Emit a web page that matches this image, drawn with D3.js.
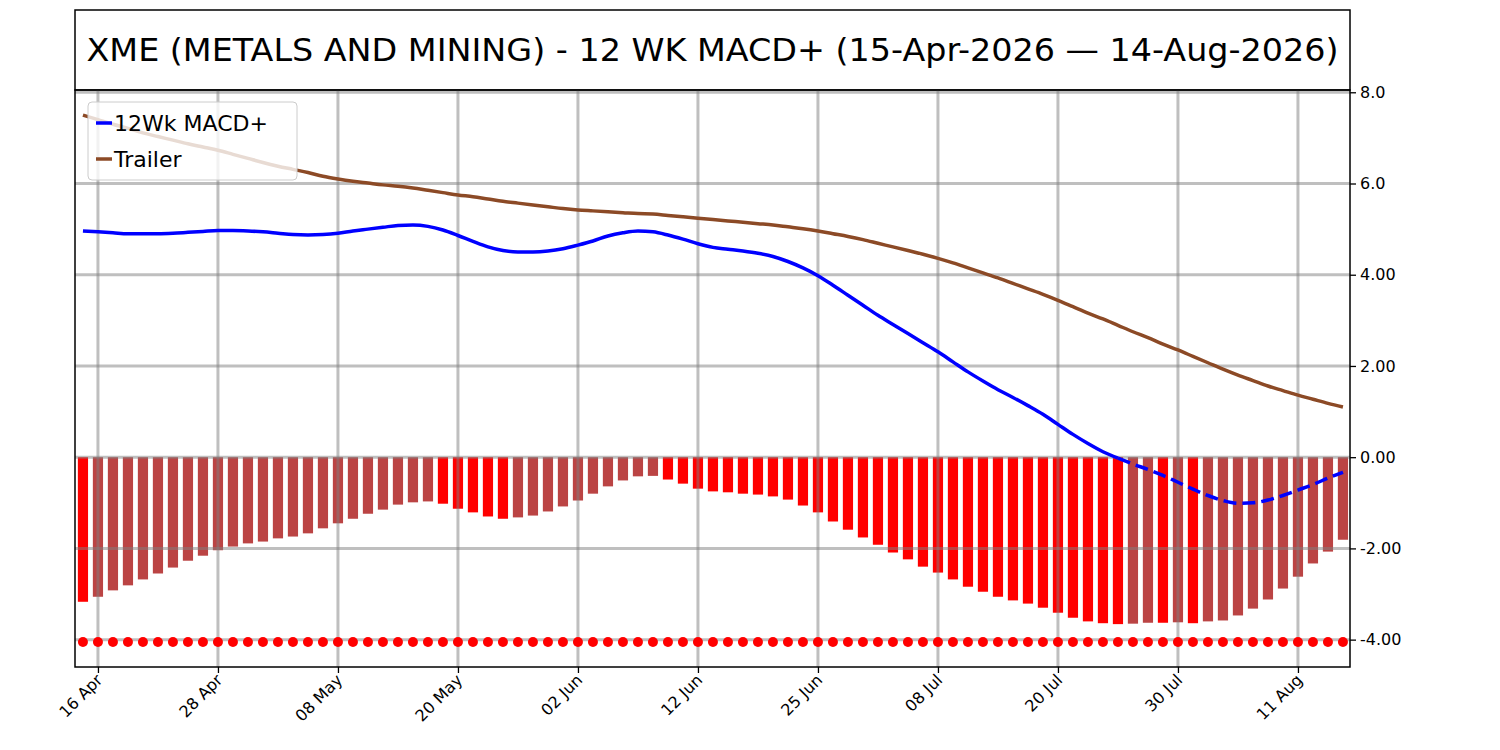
<!DOCTYPE html>
<html>
<head>
<meta charset="utf-8">
<script src="https://cdn.jsdelivr.net/npm/d3@7"></script>
<style>
  body { margin: 0; background: #fff; }
  text { font-family: "DejaVu Sans", sans-serif; }
</style>
</head>
<body>
<svg id="chart" width="1500" height="750"></svg>
<script>
// histogram values, one per trading day (15 Apr 2026 .. 14 Aug 2026)
var histValues = [-3.17, -3.06, -2.92, -2.81, -2.68, -2.55, -2.42, -2.27, -2.16, -2.04,
  -1.96, -1.89, -1.85, -1.78, -1.74, -1.67, -1.56, -1.45, -1.35, -1.24,
  -1.15, -1.04, -0.99, -0.97, -1.02, -1.13, -1.21, -1.30, -1.35, -1.32,
  -1.28, -1.19, -1.08, -0.95, -0.80, -0.64, -0.51, -0.42, -0.41, -0.49,
  -0.58, -0.69, -0.75, -0.77, -0.80, -0.82, -0.86, -0.93, -1.06, -1.21,
  -1.41, -1.59, -1.76, -1.92, -2.09, -2.24, -2.40, -2.53, -2.68, -2.84,
  -2.95, -3.06, -3.14, -3.21, -3.30, -3.41, -3.52, -3.60, -3.64, -3.66,
  -3.65, -3.63, -3.63, -3.62, -3.64, -3.60, -3.58, -3.47, -3.32, -3.12,
  -2.88, -2.62, -2.33, -2.07, -1.81];

var macdValues = [4.96, 4.94, 4.92, 4.90, 4.90, 4.90, 4.91, 4.93, 4.95, 4.97,
  4.97, 4.96, 4.94, 4.91, 4.88, 4.87, 4.88, 4.91, 4.96, 5.00,
  5.04, 5.08, 5.09, 5.06, 4.98, 4.86, 4.73, 4.61, 4.53, 4.50,
  4.50, 4.52, 4.57, 4.65, 4.74, 4.85, 4.92, 4.96, 4.94, 4.87,
  4.78, 4.68, 4.60, 4.56, 4.52, 4.47, 4.40, 4.29, 4.15, 3.98,
  3.77, 3.55, 3.33, 3.11, 2.91, 2.71, 2.51, 2.31, 2.09, 1.87,
  1.67, 1.48, 1.31, 1.13, 0.94, 0.72, 0.50, 0.30, 0.12, -0.02,
  -0.15, -0.27, -0.40, -0.55, -0.70, -0.84, -0.95, -1.01, -1.00, -0.94,
  -0.84, -0.72, -0.60, -0.46, -0.33];

var trailerValues = [7.50, 7.40, 7.30, 7.21, 7.11, 7.03, 6.95, 6.87, 6.80, 6.73,
  6.64, 6.55, 6.46, 6.38, 6.31, 6.24, 6.16, 6.10, 6.05, 6.01,
  5.97, 5.94, 5.90, 5.85, 5.80, 5.75, 5.71, 5.66, 5.61, 5.57,
  5.53, 5.49, 5.45, 5.42, 5.40, 5.38, 5.36, 5.34, 5.33, 5.30,
  5.27, 5.24, 5.21, 5.18, 5.15, 5.12, 5.09, 5.05, 5.01, 4.96,
  4.90, 4.84, 4.77, 4.69, 4.61, 4.53, 4.45, 4.36, 4.26, 4.15,
  4.04, 3.93, 3.81, 3.69, 3.57, 3.44, 3.30, 3.16, 3.03, 2.89,
  2.75, 2.62, 2.48, 2.35, 2.21, 2.07, 1.93, 1.80, 1.68, 1.56,
  1.46, 1.36, 1.27, 1.18, 1.10];

var dotLevel = -4.05;

var xTickIndex = [1, 9, 17, 25, 33, 41, 49, 57, 65, 73, 81];
var xTickLabels = ["16 Apr", "28 Apr", "08 May", "20 May", "02 Jun", "12 Jun",
  "25 Jun", "08 Jul", "20 Jul", "30 Jul", "11 Aug"];
var yTickValues = [8, 6, 4, 2, 0, -2, -4];
var yTickLabels = ["8.0", "6.0", "4.00", "2.00", "0.00", "-2.00", "-4.00"];

var title = "XME (METALS AND MINING) - 12 WK MACD+ (15-Apr-2026 \u2014 14-Aug-2026)";

var pLeft = 75, pRight = 1350, pTop = 90, pBottom = 667;
var svg = d3.select("#chart");

var x = d3.scaleLinear().domain([-0.53, 84.47]).range([pLeft, pRight]);
var y = d3.scaleLinear().domain([-4.6, 8.05]).range([pBottom, pTop]);
var idx = d3.range(histValues.length);

// title box
svg.append("rect").attr("x", pLeft).attr("y", 10).attr("width", pRight - pLeft).attr("height", pTop - 10)
  .attr("fill", "none").attr("stroke", "#000").attr("stroke-width", 1.5);
svg.append("text").attr("x", (pLeft + pRight) / 2).attr("y", 61).attr("text-anchor", "middle")
  .attr("font-size", 32).attr("textLength", 1252).attr("lengthAdjust", "spacingAndGlyphs").text(title);

// bars
var bw = (x(1) - x(0)) * 0.68;
svg.append("g").selectAll("rect").data(idx).join("rect")
  .attr("x", d => x(d) - bw / 2)
  .attr("width", bw)
  .attr("y", d => y(Math.max(0, histValues[d])))
  .attr("height", d => Math.abs(y(histValues[d]) - y(0)))
  .attr("fill", d => (d > 0 && histValues[d] > histValues[d - 1]) ? "#bb4444" : "#ff0000");

// grid
var grid = svg.append("g").attr("stroke", "#808080").attr("stroke-opacity", 0.5).attr("stroke-width", 3);
grid.selectAll(".gx").data(xTickIndex).join("line")
  .attr("x1", d => x(d)).attr("x2", d => x(d)).attr("y1", pTop).attr("y2", pBottom);
grid.selectAll(".gy").data(yTickValues).join("line")
  .attr("x1", pLeft).attr("x2", pRight).attr("y1", d => y(d)).attr("y2", d => y(d));

// dots
svg.append("g").selectAll("circle").data(idx).join("circle")
  .attr("cx", d => x(d)).attr("cy", y(dotLevel)).attr("r", 5).attr("fill", "#ff0000");

// lines
var lineT = d3.line().x(d => x(d)).y(d => y(trailerValues[d])).curve(d3.curveMonotoneX);
svg.append("path").datum(idx)
  .attr("d", lineT).attr("fill", "none").attr("stroke", "#8c4a26").attr("stroke-width", 3.5);
var lineM = d3.line().x(d => x(d)).y(d => y(macdValues[d])).curve(d3.curveMonotoneX);
svg.append("path").datum(idx.filter(d => d <= 69))
  .attr("d", lineM).attr("fill", "none").attr("stroke", "#0000ff").attr("stroke-width", 3.5);
svg.append("path").datum(idx.filter(d => d >= 69))
  .attr("d", lineM).attr("fill", "none").attr("stroke", "#0000ff").attr("stroke-width", 3.5)
  .attr("stroke-dasharray", "13,6");

// frame
svg.append("rect").attr("x", pLeft).attr("y", pTop).attr("width", pRight - pLeft).attr("height", pBottom - pTop)
  .attr("fill", "none").attr("stroke", "#000").attr("stroke-width", 1.5);

// right axis
var yAxis = d3.axisRight(y).tickValues(yTickValues).tickFormat((d, i) => yTickLabels[i]).tickSize(6).tickPadding(4);
var ga = svg.append("g").attr("transform", "translate(" + pRight + ",0)").call(yAxis);
ga.select(".domain").remove();
ga.selectAll("text").attr("font-size", 16).attr("font-family", "DejaVu Sans");
ga.selectAll("line").attr("stroke-width", 1.3);

// bottom axis
var xAxis = d3.axisBottom(x).tickValues(xTickIndex).tickFormat((d, i) => xTickLabels[i]).tickSize(6);
var gx = svg.append("g").attr("transform", "translate(0," + pBottom + ")").call(xAxis);
gx.select(".domain").remove();
gx.selectAll("line").attr("stroke-width", 1.3);
gx.selectAll("text").attr("font-size", 16).attr("font-family", "DejaVu Sans")
  .attr("text-anchor", "end").attr("dy", null).attr("y", 0)
  .attr("transform", "translate(5,14) rotate(-45)");

// legend
var lg = svg.append("g").attr("transform", "translate(88,102)");
lg.append("rect").attr("width", 209).attr("height", 78).attr("rx", 4)
  .attr("fill", "#fff").attr("fill-opacity", 0.8).attr("stroke", "#ccc");
var legendItems = [["12Wk MACD+", "#0000ff"], ["Trailer", "#8c4a26"]];
legendItems.forEach((it, i) => {
  lg.append("line").attr("x1", 8).attr("x2", 24).attr("y1", 21 + i * 36).attr("y2", 21 + i * 36)
    .attr("stroke", it[1]).attr("stroke-width", 3.5);
  lg.append("text").attr("x", 26).attr("y", 29 + i * 36).attr("font-size", 22).text(it[0]);
});
</script>
</body>
</html>
